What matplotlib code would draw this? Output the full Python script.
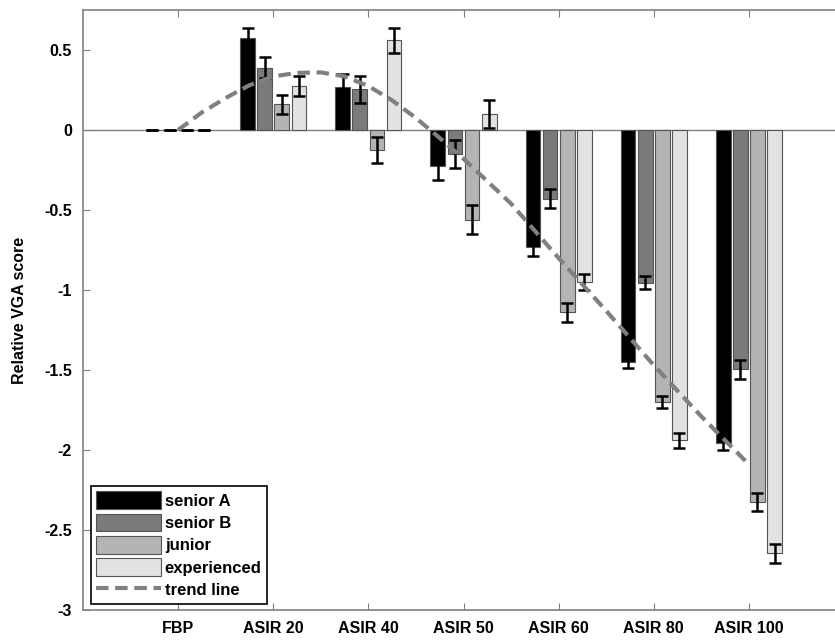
import numpy as np
import matplotlib
matplotlib.use("Agg")
import matplotlib.pyplot as plt

plt.rcParams['font.family'] = ['Liberation Sans', 'DejaVu Sans']
plt.rcParams['font.weight'] = 'bold'

categories = ['FBP', 'ASIR 20', 'ASIR 40', 'ASIR 50', 'ASIR 60', 'ASIR 80', 'ASIR 100']
series = ['senior A', 'senior B', 'junior', 'experienced']

senior_a = [0.0, 0.575, 0.27, -0.225, -0.73, -1.45, -1.955]
senior_b = [0.0, 0.39, 0.255, -0.15, -0.43, -0.955, -1.495]
junior = [0.0, 0.16, -0.125, -0.56, -1.14, -1.70, -2.325]
experienced = [0.0, 0.275, 0.56, 0.10, -0.95, -1.94, -2.645]

err_a = [0.0, 0.065, 0.08, 0.09, 0.06, 0.04, 0.045]
err_b = [0.0, 0.065, 0.085, 0.085, 0.06, 0.04, 0.06]
err_j = [0.0, 0.06, 0.08, 0.09, 0.06, 0.04, 0.055]
err_e = [0.0, 0.06, 0.08, 0.09, 0.05, 0.045, 0.06]

# trend line
trend_x = [1.0, 1.25, 1.5, 1.75, 2.0, 2.25, 2.5, 2.75, 3.0, 3.25, 3.5, 3.75,
           4.0, 4.5, 5.0, 5.5, 6.0, 6.5, 7.0]
trend_y = [0.0, 0.11, 0.2, 0.28, 0.335, 0.357, 0.36, 0.335, 0.275, 0.185, 0.075, -0.05,
           -0.18, -0.46, -0.8, -1.13, -1.47, -1.79, -2.09]

colors = ['#000000', '#7a7a7a', '#b4b4b4', '#e2e2e2']
values = [senior_a, senior_b, junior, experienced]
errors = [err_a, err_b, err_j, err_e]

fig = plt.figure(figsize=(8.35, 6.41), dpi=100)
ax = fig.add_axes([83 / 835, 31 / 641, 761 / 835, 600 / 641])

x = np.arange(1, len(categories) + 1)
step = 0.18
width = 0.155
for i in range(4):
    xs = x + (i - 1.5) * step
    ax.bar(xs, values[i], width=width, color=colors[i], edgecolor='#555555',
           linewidth=0.8, label=series[i], zorder=2)
    ax.errorbar(xs, values[i], yerr=errors[i], fmt='none', ecolor='black',
                elinewidth=1.8, capsize=4, capthick=1.8, zorder=3)

ax.plot(trend_x, trend_y, linestyle=(0, (3, 1.6)), color='#808080', lw=3,
        label='trend line', zorder=4)

ax.axhline(0, color='#808080', lw=1, zorder=1)
ax.set_xlim(0, 8)
ax.set_ylim(-3, 0.75)
ax.set_xticks(x)
ax.set_xticklabels(categories, fontsize=11.5)
ax.set_yticks([-3, -2.5, -2, -1.5, -1, -0.5, 0, 0.5])
ax.set_yticklabels(['-3', '-2.5', '-2', '-1.5', '-1', '-0.5', '0', '0.5'], fontsize=11.5)
ax.tick_params(direction='in', top=True, length=5, color='#808080', pad=8)
for s in ax.spines.values():
    s.set_color('#808080')
    s.set_linewidth(1.2)
ax.set_ylabel('Relative VGA score', fontsize=11.5, fontweight='bold', labelpad=12)

handles, labels = ax.get_legend_handles_labels()
order = [1, 2, 3, 4, 0]
leg = ax.legend([handles[k] for k in order], [labels[k] for k in order],
                loc='lower left', bbox_to_anchor=(0.01, 0.01), fontsize=12,
                fancybox=False, edgecolor='black', framealpha=1,
                handlelength=3.9, handleheight=1.25, labelspacing=0.28,
                handletextpad=0.2, borderpad=0.35, borderaxespad=0)
leg.get_frame().set_linewidth(1.2)

fig.savefig('out.png', dpi=100)
